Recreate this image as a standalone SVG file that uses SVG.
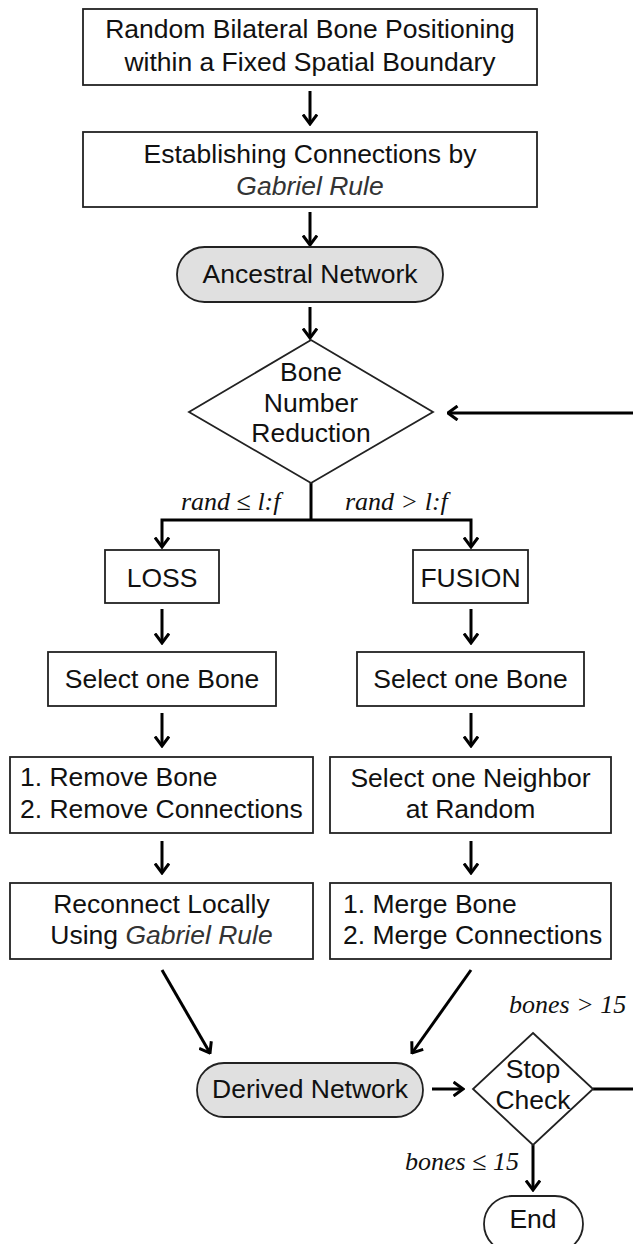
<svg xmlns="http://www.w3.org/2000/svg" width="633" height="1244" viewBox="0 0 633 1244">
<style>
.box{fill:#fff;stroke:#222;stroke-width:1.8}
.pill{fill:#e0e0e0;stroke:#222;stroke-width:1.8}
.t{font-family:"Liberation Sans",Arial,Helvetica,sans-serif;font-size:26.5px;fill:#111}
.c{text-anchor:middle}
.it{font-style:italic;fill:#333}
.lbl{font-family:"Liberation Serif","Times New Roman",serif;font-style:italic;font-size:26px;fill:#111}
.ln{fill:none;stroke:#000;stroke-width:3}
.arr{fill:none;stroke:#000;stroke-width:3;marker-end:url(#ah)}
</style>
<defs>
<marker id="ah" markerUnits="userSpaceOnUse" viewBox="0 0 12 16" refX="10.5" refY="8" markerWidth="12" markerHeight="16" orient="auto">
<path d="M1,1 L10.5,8 L1,15" fill="none" stroke="#000" stroke-width="3"/>
</marker>
</defs>
<rect width="633" height="1244" fill="#fff"/>
<g id="connectors">
<line class="arr" x1="310" y1="91" x2="310" y2="124"/>
<line class="arr" x1="310" y1="212" x2="310" y2="245"/>
<line class="arr" x1="310" y1="307" x2="310" y2="338"/>
<line class="arr" x1="633" y1="413" x2="448" y2="413"/>
<polyline class="ln" points="311,483 311,520"/>
<polyline class="arr" points="311,520 162,520 162,547"/>
<polyline class="arr" points="311,520 471,520 471,547"/>
<line class="arr" x1="162" y1="609" x2="162" y2="643"/>
<line class="arr" x1="471" y1="609" x2="471" y2="643"/>
<line class="arr" x1="162" y1="713" x2="162" y2="746"/>
<line class="arr" x1="471" y1="713" x2="471" y2="746"/>
<line class="arr" x1="162" y1="841" x2="162" y2="873"/>
<line class="arr" x1="471" y1="841" x2="471" y2="873"/>
<line class="arr" x1="162" y1="970" x2="210" y2="1053"/>
<line class="arr" x1="471" y1="970" x2="412" y2="1053"/>
<line class="arr" x1="432" y1="1089" x2="463" y2="1089"/>
<line class="ln" x1="593" y1="1089" x2="633" y2="1089"/>
<line class="arr" x1="533" y1="1145" x2="533" y2="1190"/>
<text class="lbl" x="181" y="510">rand ≤ l:f</text>
<text class="lbl" x="345" y="510">rand &gt; l:f</text>
<text class="lbl" x="509" y="1013">bones &gt; 15</text>
<text class="lbl" x="405" y="1170">bones ≤ 15</text>
</g>
<g id="n1">
<rect class="box" x="83" y="9" width="454" height="76"/>
<text class="t c" x="310" y="38">Random Bilateral Bone Positioning</text>
<text class="t c" x="310" y="71">within a Fixed Spatial Boundary</text>
</g>
<g id="n2">
<rect class="box" x="83" y="132" width="454" height="75"/>
<text class="t c" x="310" y="163">Establishing Connections by</text>
<text class="t c it" x="310" y="195">Gabriel Rule</text>
</g>
<g id="n3">
<rect class="pill" x="177" y="247" width="266" height="55" rx="27.5"/>
<text class="t c" x="310" y="283">Ancestral Network</text>
</g>
<g id="n4">
<polygon class="box" points="311,340 433,412 311,483 189,412"/>
<text class="t c" x="311" y="381">Bone</text>
<text class="t c" x="311" y="412">Number</text>
<text class="t c" x="311" y="442">Reduction</text>
</g>
<g id="n5">
<rect class="box" x="105" y="550" width="114" height="53"/>
<text class="t c" x="162" y="587">LOSS</text>
</g>
<g id="n6">
<rect class="box" x="413" y="550" width="115" height="53"/>
<text class="t c" x="470.5" y="587">FUSION</text>
</g>
<g id="n7">
<rect class="box" x="48" y="652" width="228" height="54"/>
<text class="t c" x="162" y="688">Select one Bone</text>
</g>
<g id="n8">
<rect class="box" x="357" y="652" width="227" height="54"/>
<text class="t c" x="470.5" y="688">Select one Bone</text>
</g>
<g id="n9">
<rect class="box" x="10" y="757" width="303" height="76"/>
<text class="t" x="20" y="786">1. Remove Bone</text>
<text class="t" x="20" y="818">2. Remove Connections</text>
</g>
<g id="n10">
<rect class="box" x="330" y="757" width="281" height="76"/>
<text class="t c" x="470.5" y="787">Select one Neighbor</text>
<text class="t c" x="470.5" y="818">at Random</text>
</g>
<g id="n11">
<rect class="box" x="10" y="883" width="303" height="76"/>
<text class="t c" x="161.5" y="913">Reconnect Locally</text>
<text class="t c" x="161.5" y="944">Using <tspan class="it">Gabriel Rule</tspan></text>
</g>
<g id="n12">
<rect class="box" x="330" y="883" width="281" height="76"/>
<text class="t" x="343" y="913">1. Merge Bone</text>
<text class="t" x="343" y="944">2. Merge Connections</text>
</g>
<g id="n13">
<rect class="pill" x="197" y="1063" width="226" height="54" rx="27"/>
<text class="t c" x="310" y="1098">Derived Network</text>
</g>
<g id="n14">
<polygon class="box" points="533,1033 593,1089 533,1145 473,1089"/>
<text class="t c" x="533" y="1078">Stop</text>
<text class="t c" x="533" y="1109">Check</text>
</g>
<g id="n15">
<rect class="box" x="484" y="1196" width="99" height="56" rx="28"/>
<text class="t c" x="533" y="1228">End</text>
</g>
</svg>
